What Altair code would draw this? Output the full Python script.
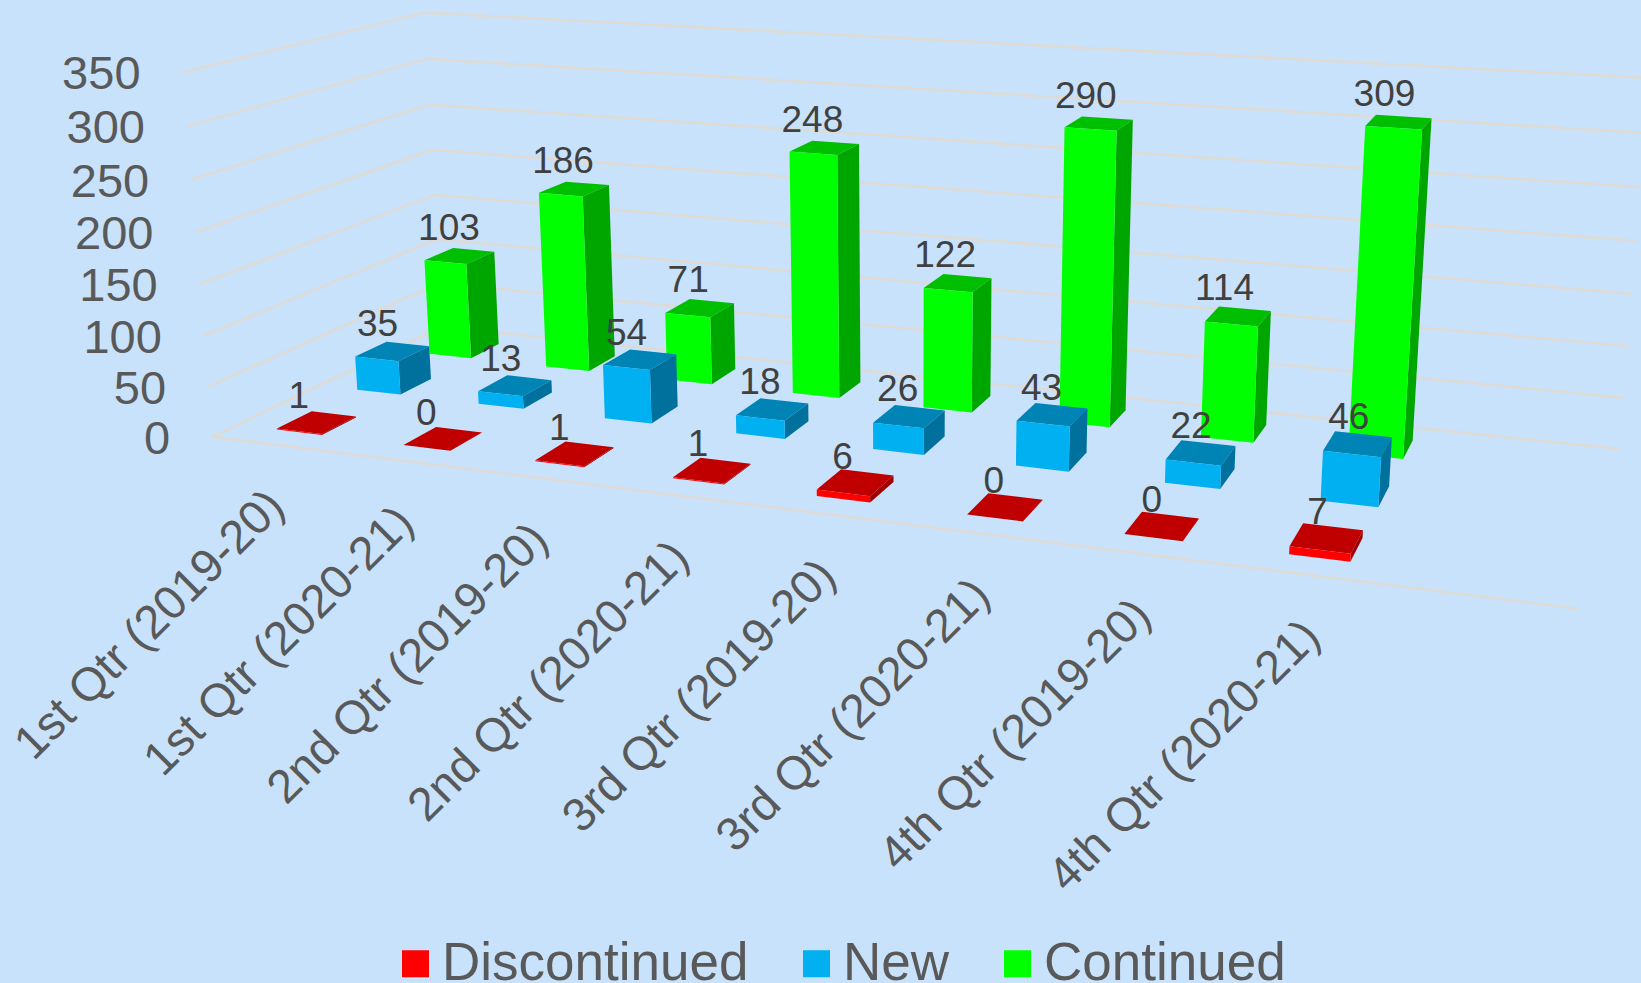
import altair as alt
import numpy as np

# Quarterly counts per status
quarters = ["1st Qtr (2019-20)", "1st Qtr (2020-21)", "2nd Qtr (2019-20)", "2nd Qtr (2020-21)",
            "3rd Qtr (2019-20)", "3rd Qtr (2020-21)", "4th Qtr (2019-20)", "4th Qtr (2020-21)"]
discontinued = [1, 0, 1, 1, 6, 0, 0, 7]
new = [35, 13, 54, 18, 26, 43, 22, 46]
continued = [103, 186, 71, 248, 122, 290, 114, 309]
value_ticks = [0, 50, 100, 150, 200, 250, 300, 350]

series_names = ["Discontinued", "New", "Continued"]
series_values = [discontinued, new, continued]
face_colors = {
    "Discontinued": {"front": "#FF0000", "top": "#C00000", "side": "#A00000"},
    "New": {"front": "#00B0F0", "top": "#0084B5", "side": "#00709C"},
    "Continued": {"front": "#00FF00", "top": "#00BF00", "side": "#00A600"},
}

# Camera of the 3-D view: (category, series, value / 100, 1) -> homogeneous page position
CAMERA = np.array([
    [119.4437781, 101.0654966, -10.5698196, 212.1063482],
    [6.588896, -18.4273971, -104.9622261, 436.8425887],
    [-0.0205862, 0.0558945, -0.0116228, 1.0],
])
W, H = 1641, 983
BAR_W, BAR_D = 0.36, 0.42
N_CAT, N_SER = 9, 3

# Data-label placement per series: horizontal start, drift per category, lift above the bar
LABEL_DX0 = [-18.0, -15.0, -10.7]
LABEL_DX1 = [1.286, 0.857, -0.5]
LABEL_LIFT = [25, 26, 27]


def project(cat, ser, val):
    h = CAMERA @ np.array([cat, ser, val / 100.0, 1.0])
    return float(h[0] / h[2]), float(h[1] / h[2])


def polygon(key, corners):
    ring = [list(project(*c)) for c in corners]
    ring.append(ring[0])
    return {"type": "Feature", "properties": {"face": key},
            "geometry": {"type": "Polygon", "coordinates": [ring]}}


# Bar faces, painted from the back row forward and left to right
faces = []
for s in reversed(range(N_SER)):
    name = series_names[s]
    for i, v in enumerate(series_values[s]):
        x0, x1 = i + 0.5 - BAR_W / 2, i + 0.5 + BAR_W / 2
        y0, y1 = s + 0.5 - BAR_D / 2, s + 0.5 + BAR_D / 2
        faces.append(polygon(name + " top", [(x0, y0, v), (x1, y0, v), (x1, y1, v), (x0, y1, v)]))
        faces.append(polygon(name + " side", [(x1, y0, 0), (x1, y1, 0), (x1, y1, v), (x1, y0, v)]))
        faces.append(polygon(name, [(x0, y0, 0), (x1, y0, 0), (x1, y0, v), (x0, y0, v)]))

domain, colors = [], []
for name in series_names:
    domain += [name, name + " top", name + " side"]
    colors += [face_colors[name]["front"], face_colors[name]["top"], face_colors[name]["side"]]

# Gridlines on the left wall and back wall, plus the front edge of the floor
grid = []
for z in value_ticks:
    a, b, c = project(0, 0, z), project(0, N_SER, z), project(N_CAT, N_SER, z)
    grid.append({"x": a[0], "y": a[1], "x2": b[0], "y2": b[1]})
    grid.append({"x": b[0], "y": b[1], "x2": c[0], "y2": c[1]})
a, b = project(0, 0, 0), project(N_CAT, 0, 0)
grid.append({"x": a[0], "y": a[1], "x2": b[0], "y2": b[1]})

tick_rows = []
for z in value_ticks:
    px, py = project(0, 0, z)
    tick_rows.append({"x": px - 42, "y": py + 3, "t": str(z)})

cat_rows = []
for i, q in enumerate(quarters):
    px, py = project(i + 0.5, 0, 0)
    cat_rows.append({"x": px + 12, "y": py + 64, "t": q})

value_rows = []
for s, vals in enumerate(series_values):
    for i, v in enumerate(vals):
        px, py = project(i + 0.5, s + 0.5, v)
        value_rows.append({"x": px + LABEL_DX0[s] + LABEL_DX1[s] * i, "y": py - LABEL_LIFT[s], "t": str(v)})

x_enc = alt.X("x:Q", scale=alt.Scale(domain=[0, W], range=[0, W]), axis=None)
y_enc = alt.Y("y:Q", scale=alt.Scale(domain=[0, H], range=[0, H]), axis=None)
FONT = "Liberation Sans"

grid_layer = alt.Chart(alt.Data(values=grid)).mark_rule(
    color="#DFDAD4", strokeWidth=2.5
).encode(x=x_enc, y=y_enc, x2="x2:Q", y2="y2:Q")

bars = alt.Chart(alt.Data(values=faces)).mark_geoshape(strokeWidth=0).encode(
    color=alt.Color(
        "properties.face:N",
        scale=alt.Scale(domain=domain, range=colors),
        legend=alt.Legend(
            title=None, orient="none", legendX=389, legendY=937, direction="horizontal",
            columns=3, values=series_names, labelFont=FONT, labelFontSize=53,
            labelColor="#595959", labelLimit=600, labelOffset=0, symbolType="square",
            symbolSize=729, symbolStrokeWidth=0, columnPadding=41, padding=0,
        ),
    )
).project(type="identity", scale=1, translate=[0, 0])

tick_labels = alt.Chart(alt.Data(values=tick_rows)).mark_text(
    font=FONT, fontSize=47, color="#595959", align="right", baseline="middle"
).encode(x=x_enc, y=y_enc, text="t:N")

cat_labels = alt.Chart(alt.Data(values=cat_rows)).mark_text(
    font=FONT, fontSize=47, color="#595959", align="right", baseline="alphabetic", angle=315
).encode(x=x_enc, y=y_enc, text="t:N")

value_labels = alt.Chart(alt.Data(values=value_rows)).mark_text(
    font=FONT, fontSize=37, color="#404040", align="center", baseline="middle"
).encode(x=x_enc, y=y_enc, text="t:N")

chart = alt.layer(grid_layer, bars, tick_labels, cat_labels, value_labels).properties(
    width=W, height=H, background="#C8E2FB", padding=0,
    autosize=alt.AutoSizeParams(type="none"),
).configure_view(stroke=None)

chart.save("out.html", embed_options={"renderer": "svg", "actions": False})
